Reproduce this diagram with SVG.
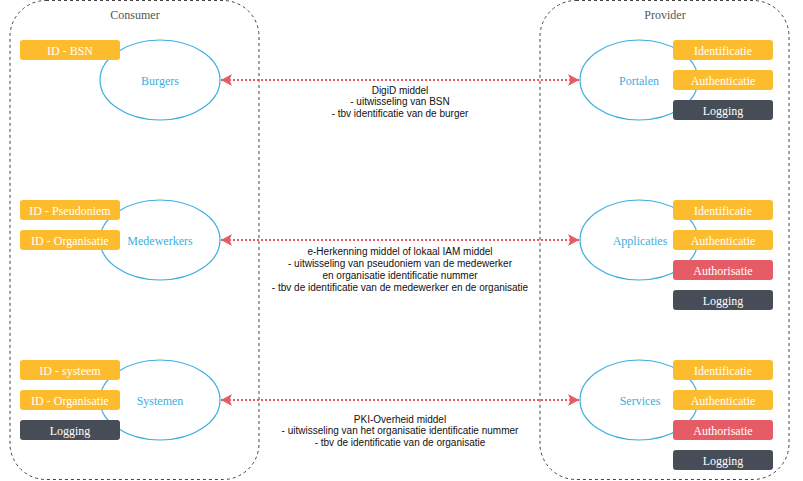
<svg xmlns="http://www.w3.org/2000/svg" width="803" height="481" viewBox="0 0 803 481">
<defs>
<style>
.cont{fill:none;stroke:#444;stroke-width:1;stroke-dasharray:3 3}
.ctitle{font-family:"Liberation Serif",serif;font-size:12px;fill:#555;text-anchor:middle}
.ell{fill:none;stroke:#3BAEDD;stroke-width:1.2}
.elabel{font-family:"Liberation Serif",serif;font-size:12px;fill:#3BAEDD;text-anchor:middle;dominant-baseline:central}
.or{fill:#FDBC2E}
.dk{fill:#474D56}
.rd{fill:#E65C66}
.btxt{font-family:"Liberation Serif",serif;font-size:12px;fill:#fff;text-anchor:middle;dominant-baseline:central}
.conn{stroke:#E65C66;stroke-width:2;stroke-dasharray:2 2;fill:none;marker-start:url(#ahs);marker-end:url(#ahe)}
.lbl{font-family:"Liberation Sans",Arial,sans-serif;font-size:10px;fill:#111;text-anchor:middle}
</style>
<marker id="ahe" viewBox="0 0 11 12" refX="11" refY="6" markerWidth="11" markerHeight="12" orient="auto" markerUnits="userSpaceOnUse">
<path d="M0,0 L11,6 L0,12 L2.5,6 Z" fill="#E65C66"/>
</marker>
<marker id="ahs" viewBox="0 0 11 12" refX="0" refY="6" markerWidth="11" markerHeight="12" orient="auto" markerUnits="userSpaceOnUse">
<path d="M11,0 L0,6 L11,12 L8.5,6 Z" fill="#E65C66"/>
</marker>
</defs>
<rect width="803" height="481" fill="#fff"/>

<g id="consumer">
<rect class="cont" x="10" y="0.5" width="249" height="479" rx="36" ry="36"/>
<text class="ctitle" x="135" y="19">Consumer</text>
</g>
<g id="provider">
<rect class="cont" x="540" y="0.5" width="249" height="479" rx="36" ry="36"/>
<text class="ctitle" x="665" y="19">Provider</text>
</g>

<g id="connectors">
<line class="conn" x1="221" y1="80" x2="579" y2="80"/>
<line class="conn" x1="221" y1="240" x2="579" y2="240"/>
<line class="conn" x1="221" y1="400" x2="579" y2="400"/>
</g>

<g id="burgers">
<ellipse class="ell" cx="160" cy="80" rx="60" ry="40"/>
<text class="elabel" x="160" y="81">Burgers</text>
<rect class="or" x="20" y="40" width="100" height="20" rx="3"/>
<text class="btxt" x="70" y="51">ID - BSN</text>
</g>

<g id="medewerkers">
<ellipse class="ell" cx="160" cy="240" rx="60" ry="40"/>
<text class="elabel" x="160" y="241">Medewerkers</text>
<rect class="or" x="20" y="200" width="100" height="20" rx="3"/>
<text class="btxt" x="70" y="211">ID - Pseudoniem</text>
<rect class="or" x="20" y="230" width="100" height="20" rx="3"/>
<text class="btxt" x="70" y="241">ID - Organisatie</text>
</g>

<g id="systemen">
<ellipse class="ell" cx="160" cy="400" rx="60" ry="40"/>
<text class="elabel" x="160" y="401">Systemen</text>
<rect class="or" x="20" y="360" width="100" height="20" rx="3"/>
<text class="btxt" x="70" y="371">ID - systeem</text>
<rect class="or" x="20" y="390" width="100" height="20" rx="3"/>
<text class="btxt" x="70" y="401">ID - Organisatie</text>
<rect class="dk" x="20" y="420" width="100" height="20" rx="3"/>
<text class="btxt" x="70" y="431">Logging</text>
</g>

<g id="portalen">
<ellipse class="ell" cx="639" cy="80" rx="59" ry="40"/>
<text class="elabel" x="639" y="81">Portalen</text>
<rect class="or" x="673" y="40" width="100" height="20" rx="3"/>
<text class="btxt" x="723" y="51">Identificatie</text>
<rect class="or" x="673" y="70" width="100" height="20" rx="3"/>
<text class="btxt" x="723" y="81">Authenticatie</text>
<rect class="dk" x="673" y="100" width="100" height="20" rx="3"/>
<text class="btxt" x="723" y="111">Logging</text>
</g>

<g id="applicaties">
<ellipse class="ell" cx="639" cy="240" rx="59" ry="40"/>
<text class="elabel" x="640" y="241">Applicaties</text>
<rect class="or" x="673" y="200" width="100" height="20" rx="3"/>
<text class="btxt" x="723" y="211">Identificatie</text>
<rect class="or" x="673" y="230" width="100" height="20" rx="3"/>
<text class="btxt" x="723" y="241">Authenticatie</text>
<rect class="rd" x="673" y="260" width="100" height="20" rx="3"/>
<text class="btxt" x="723" y="271">Authorisatie</text>
<rect class="dk" x="673" y="290" width="100" height="20" rx="3"/>
<text class="btxt" x="723" y="301">Logging</text>
</g>

<g id="services">
<ellipse class="ell" cx="639" cy="400" rx="59" ry="40"/>
<text class="elabel" x="640" y="401">Services</text>
<rect class="or" x="673" y="360" width="100" height="20" rx="3"/>
<text class="btxt" x="723" y="371">Identificatie</text>
<rect class="or" x="673" y="390" width="100" height="20" rx="3"/>
<text class="btxt" x="723" y="401">Authenticatie</text>
<rect class="rd" x="673" y="420" width="100" height="20" rx="3"/>
<text class="btxt" x="723" y="431">Authorisatie</text>
<rect class="dk" x="673" y="450" width="100" height="20" rx="3"/>
<text class="btxt" x="723" y="461">Logging</text>
</g>

<g id="labels">
<text class="lbl" x="400" y="93.5">DigiD middel</text>
<text class="lbl" x="400" y="105.2">- uitwisseling van BSN</text>
<text class="lbl" x="400" y="116.9">- tbv identificatie van de burger</text>

<text class="lbl" x="400" y="254.5">e-Herkenning middel of lokaal IAM middel</text>
<text class="lbl" x="400" y="266.5">- uitwisseling van pseudoniem van de medewerker</text>
<text class="lbl" x="400" y="278.5">en organisatie identificatie nummer</text>
<text class="lbl" x="400" y="290.5">- tbv de identificatie van de medewerker en de organisatie</text>

<text class="lbl" x="400" y="422.5">PKI-Overheid middel</text>
<text class="lbl" x="400" y="434.2">- uitwisseling van het organisatie identificatie nummer</text>
<text class="lbl" x="400" y="445.9">- tbv de identificatie van de organisatie</text>
</g>
</svg>
